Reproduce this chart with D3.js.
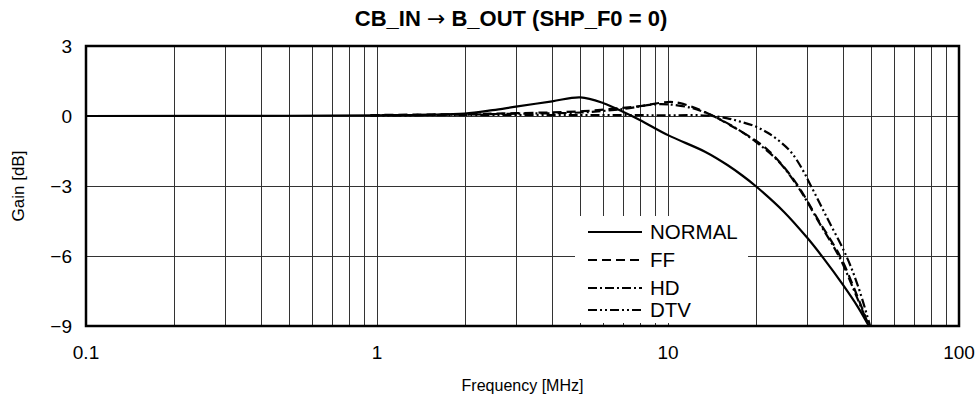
<!DOCTYPE html>
<html>
<head>
<meta charset="utf-8">
<script src="https://cdn.jsdelivr.net/npm/d3@7"></script>
<style>
body{margin:0;background:#fff;}
text{font-family:"Liberation Sans",Arial,sans-serif;fill:#000;}
</style>
</head>
<body>
<div id="chart"></div>
<script>
// width and height
var w = 980;
var h = 400;
var margin = {left:86, right:21, top:46, bottom:74};

// data (MHz, dB)
var normalF = [0.1,0.5,1,1.5,2,2.5,3,4,5,6,7,8,10,13.5,16,18,20,25,30,34,40,45,49];
var normalG = [0,0.01,0.03,0.05,0.1,0.25,0.4,0.63,0.8,0.55,0.18,-0.17,-0.82,-1.55,-2.1,-2.55,-3.0,-4.1,-5.2,-6.05,-7.25,-8.2,-9];

var ffF = [0.95,1,2,3,5,7,8,10,11,13.5,16.7,20,22,24.3,28,33,39,44,49];
var ffG = [0.03,0.04,0.08,0.12,0.2,0.35,0.42,0.6,0.55,0.15,-0.46,-1.05,-1.45,-2.0,-3.0,-4.5,-6.0,-7.5,-9];

var hdF = [0.95,1,2,3,5,7,9,10,12,14,17,20,24,28,33,39,44,49];
var hdG = [0.02,0.03,0.06,0.1,0.15,0.3,0.5,0.5,0.35,0.05,-0.5,-1.1,-1.95,-3.05,-4.55,-6.1,-7.6,-9];

var dtvF = [0.95,2,5,10,13.6,16,17.7,20,22,24,26.5,29,31,35,41,45,49.5];
var dtvG = [0.02,0.04,0.04,0.03,0.02,-0.1,-0.24,-0.45,-0.72,-1.05,-1.55,-2.3,-3.0,-4.3,-6.0,-7.3,-9];

var seriesNames = ["NORMAL","FF","HD","DTV"];
var dashes = ["none","9,5","9,3,2,3","9,3,2,3,2,3"];

var xTicks = [0.1,1,10,100];
var xTickLabels = ["0.1","1","10","100"];
var yTicks = [3,0,-3,-6,-9];
var yTickLabels = ["3","0","\u22123","\u22126","\u22129"];

var series = [
    {f:normalF, g:normalG},
    {f:ffF, g:ffG},
    {f:hdF, g:hdG},
    {f:dtvF, g:dtvG}
];

var x = d3.scaleLog().domain([0.1,100]).range([margin.left, w-margin.right]);
var y = d3.scaleLinear().domain([-9,3]).range([h-margin.bottom, margin.top]);

var svg = d3.select("#chart")
            .append("svg")
            .attr("width",w)
            .attr("height",h);

// vertical grid (1..9 per decade)
var gridX = [];
[0.1,1,10].forEach(function(d){
    for(var k=1;k<10;k++){ gridX.push(d*k); }
});
svg.append("g")
    .selectAll("line")
    .data(gridX)
    .enter()
    .append("line")
    .attr("x1",function(d){return Math.round(x(d))+0.5;})
    .attr("x2",function(d){return Math.round(x(d))+0.5;})
    .attr("y1",y(3))
    .attr("y2",y(-9))
    .attr("stroke","#333")
    .attr("stroke-width",1);

svg.append("g")
    .selectAll("line")
    .data([0,-3,-6])
    .enter()
    .append("line")
    .attr("x1",x(0.1))
    .attr("x2",x(100))
    .attr("y1",function(d){return Math.round(y(d))+0.5;})
    .attr("y2",function(d){return Math.round(y(d))+0.5;})
    .attr("stroke","#333")
    .attr("stroke-width",1);

// legend box covers grid
svg.append("rect")
    .attr("x",575)
    .attr("y",216)
    .attr("width",173)
    .attr("height",107)
    .attr("fill","#fff");

var line = d3.line()
    .x(function(d){return x(d[0]);})
    .y(function(d){return y(d[1]);})
    .curve(d3.curveCatmullRom.alpha(0.5));

svg.append("g")
    .selectAll("path")
    .data(series)
    .enter()
    .append("path")
    .attr("d",function(s){
        return line(s.f.map(function(f,i){return [f,s.g[i]];}));
    })
    .attr("fill","none")
    .attr("stroke","#000")
    .attr("stroke-width",2.2)
    .attr("stroke-dasharray",function(s,i){return dashes[i];});

// legend
var leg = svg.append("g");
var legY = [232,260,288,310];
seriesNames.forEach(function(name,i){
    leg.append("line")
        .attr("x1",588).attr("x2",642)
        .attr("y1",legY[i]).attr("y2",legY[i])
        .attr("stroke","#000")
        .attr("stroke-width",2.2)
        .attr("stroke-dasharray",dashes[i]);
    leg.append("text")
        .attr("x",650)
        .attr("y",legY[i])
        .attr("dy","0.36em")
        .attr("font-size",20.5)
        .text(name);
});

// frame
svg.append("rect")
    .attr("x",x(0.1))
    .attr("y",y(3))
    .attr("width",x(100)-x(0.1))
    .attr("height",y(-9)-y(3))
    .attr("fill","none")
    .attr("stroke","#000")
    .attr("stroke-width",2.5);

// tick labels
svg.append("g")
    .selectAll("text")
    .data(yTicks)
    .enter()
    .append("text")
    .attr("x",72)
    .attr("y",function(d){return y(d);})
    .attr("dy","0.36em")
    .attr("text-anchor","end")
    .attr("font-size",19)
    .text(function(d,i){return yTickLabels[i];});

svg.append("g")
    .selectAll("text")
    .data(xTicks)
    .enter()
    .append("text")
    .attr("x",function(d){return x(d);})
    .attr("y",359)
    .attr("text-anchor","middle")
    .attr("font-size",19)
    .text(function(d,i){return xTickLabels[i];});

// titles
var title = svg.append("text")
    .attr("x",511)
    .attr("y",26)
    .attr("text-anchor","middle")
    .attr("font-size",22)
    .attr("font-weight","bold");
title.append("tspan").text("CB_IN ");
title.append("tspan")
    .style("font-family","'DejaVu Sans'")
    .attr("font-weight","normal")
    .text("\u2192");
title.append("tspan").text(" B_OUT (SHP_F0 = 0)");

svg.append("text")
    .attr("x",(x(0.1)+x(100))/2)
    .attr("y",391)
    .attr("text-anchor","middle")
    .attr("font-size",16)
    .text("Frequency [MHz]");

svg.append("text")
    .attr("transform","translate(24,"+((y(3)+y(-9))/2)+") rotate(-90)")
    .attr("text-anchor","middle")
    .attr("font-size",17)
    .text("Gain [dB]");
</script>
</body>
</html>
